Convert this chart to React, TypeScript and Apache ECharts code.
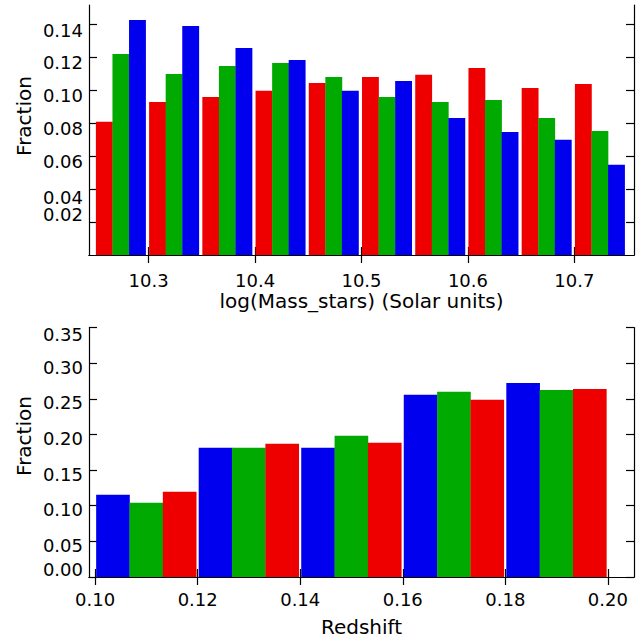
import React, { useEffect, useRef } from "react";
import * as echarts from "echarts";

// ---- Data (top panel: stellar mass bins) ----
const massBinStarts = [10.25, 10.3, 10.35, 10.4, 10.45, 10.5, 10.55, 10.6, 10.65, 10.7];
const massBinWidth = 0.05;
const massRed = [0.0808, 0.0929, 0.0959, 0.0996, 0.1044, 0.108, 0.1093, 0.1135, 0.1014, 0.1038];
const massGreen = [0.122, 0.1099, 0.1147, 0.1165, 0.108, 0.0959, 0.0929, 0.0941, 0.0832, 0.0753];
const massBlue = [0.1426, 0.139, 0.1256, 0.1183, 0.0996, 0.1056, 0.0832, 0.0747, 0.0699, 0.0547];
const massTicks = [10.3, 10.4, 10.5, 10.6, 10.7];
const massFracTicks = [0.02, 0.04, 0.06, 0.08, 0.1, 0.12, 0.14];
const massFracLabelsMain = [0.04, 0.06, 0.08, 0.1, 0.12, 0.14];
const massFracLabelsLow = [0.02];

// ---- Data (bottom panel: redshift bins) ----
const zBinStarts = [0.1, 0.12, 0.14, 0.16, 0.18];
const zBinWidth = 0.02;
const zBlue = [0.1154, 0.1813, 0.1813, 0.2555, 0.2723];
const zGreen = [0.1042, 0.1813, 0.1981, 0.2597, 0.2625];
const zRed = [0.1197, 0.1869, 0.1883, 0.2485, 0.2639];
const zTicks = [0.1, 0.12, 0.14, 0.16, 0.18, 0.2];
const zFracTicks = [0.0, 0.05, 0.1, 0.15, 0.2, 0.25, 0.3, 0.35];
const zFracLabelsMain = [0.05, 0.1, 0.15, 0.2, 0.25, 0.3, 0.35];
const zFracLabelsLow = [0.0];

const RED = "#ee0000";
const GREEN = "#00aa00";
const BLUE = "#0000ee";
const FONT = "DejaVu Sans";
const LABEL_SIZE = 18;
const TITLE_SIZE = 20;

function barSeries(
  name: string,
  starts: number[],
  values: number[],
  binW: number,
  slot: number,
  color: string,
  xIdx: number,
  yIdx: number,
  padL: number,
  padR: number
) {
  return {
    type: "custom",
    name,
    xAxisIndex: xIdx,
    yAxisIndex: yIdx,
    data: starts.map((s, i) => [s, values[i]]),
    renderItem: (params: any, api: any) => {
      const x0 = api.value(0);
      const y = api.value(1);
      const p0 = api.coord([x0, 0]);
      const p1 = api.coord([x0 + binW, y]);
      const left0 = p0[0] + padL;
      const gw = p1[0] - padR - left0;
      const bw = gw / 3;
      return {
        type: "rect",
        shape: { x: left0 + slot * bw, y: p1[1], width: bw + 0.3, height: p0[1] - p1[1] },
        style: { fill: color },
      };
    },
  };
}

// label vertical shift (px, positive = down) relative to its tick
function richLabel(shifts: Record<string, number>, def: number, digits: number) {
  return (v: number) => {
    const t = v.toFixed(digits);
    const s = t in shifts ? shifts[t] : def;
    if (s > 0) return `{d${s}|${t}}`;
    if (s < 0) return `{u${-s}|${t}}`;
    return `{n|${t}}`;
  };
}

function richStyles(shifts: Record<string, number>, def: number) {
  const base = { fontSize: LABEL_SIZE, fontFamily: FONT, color: "#000" };
  const r: any = { n: { ...base } };
  [...Object.values(shifts), def].forEach((s) => {
    if (s > 0) r["d" + s] = { ...base, padding: [2 * s, 0, 0, 0] };
    if (s < 0) r["u" + -s] = { ...base, padding: [0, 0, -2 * s, 0] };
  });
  return r;
}

const axisLineStyle = { show: true, lineStyle: { color: "#000", width: 1.2 } };
const tickStyle = (vals: number[]) => ({
  show: true,
  inside: true,
  length: 8,
  customValues: vals,
  lineStyle: { color: "#000", width: 1.2 },
});

export default function App() {
  const ref = useRef<HTMLDivElement>(null);
  useEffect(() => {
    if (!ref.current) return;
    const chart = echarts.init(ref.current, undefined, { renderer: "svg" });
    const topShifts: Record<string, number> = { "0.14": 6, "0.04": 8, "0.02": -8 };
    const botShifts: Record<string, number> = { "0.35": 7, "0.00": -8 };
    const labelCommon = {
      margin: 6,
      hideOverlap: false,
      showMinLabel: true,
      showMaxLabel: true,
      fontSize: LABEL_SIZE,
      fontFamily: FONT,
      color: "#000",
    };
    const yLabelAxis = (grid: number, min: number, max: number, vals: number[], shifts: Record<string, number>, def: number) => ({
      type: "value", gridIndex: grid, min, max, position: "left",
      axisLine: { show: false }, axisTick: { show: false }, splitLine: { show: false },
      axisLabel: { ...labelCommon, customValues: vals, formatter: richLabel(shifts, def, 2), rich: richStyles(shifts, def) },
    });
    const yFrameAxis = (grid: number, min: number, max: number, pos: string, ticks: number[]) => ({
      type: "value", gridIndex: grid, min, max, position: pos,
      axisLine: axisLineStyle, axisTick: tickStyle(ticks), splitLine: { show: false },
      axisLabel: { show: false },
    });
    const option: any = {
      animation: false,
      backgroundColor: "#fff",
      grid: [
        { left: 89, top: 5, right: 10, height: 250 },
        { left: 89, top: 327.5, right: 10, height: 249.5 },
      ],
      xAxis: [
        {
          type: "value", gridIndex: 0, min: 10.244, max: 10.756, position: "bottom",
          axisLine: axisLineStyle, axisTick: tickStyle(massTicks), splitLine: { show: false },
          axisLabel: {
            ...labelCommon, customValues: massTicks, margin: 16,
            formatter: (v: number) => v.toFixed(1),
          },
          name: "log(Mass_stars) (Solar units)", nameLocation: "middle", nameGap: 36,
          nameTextStyle: { fontSize: TITLE_SIZE, fontFamily: FONT, color: "#000" },
        },
        {
          type: "value", gridIndex: 0, min: 10.244, max: 10.756, position: "top",
          axisLine: axisLineStyle, axisTick: tickStyle(massTicks), splitLine: { show: false },
          axisLabel: { show: false },
        },
        {
          type: "value", gridIndex: 1, min: 0.0988, max: 0.2051, position: "bottom",
          axisLine: axisLineStyle, axisTick: tickStyle(zTicks), splitLine: { show: false },
          axisLabel: {
            ...labelCommon, customValues: zTicks, margin: 13,
            formatter: (v: number) => v.toFixed(2),
          },
          name: "Redshift", nameLocation: "middle", nameGap: 40,
          nameTextStyle: { fontSize: TITLE_SIZE, fontFamily: FONT, color: "#000" },
        },
        {
          type: "value", gridIndex: 1, min: 0.0988, max: 0.2051, position: "top",
          axisLine: axisLineStyle, axisTick: tickStyle(zTicks), splitLine: { show: false },
          axisLabel: { show: false },
        },
      ],
      yAxis: [
        yFrameAxis(0, 0, 0.1517, "left", massFracTicks),
        yFrameAxis(0, 0, 0.1517, "right", massFracTicks),
        yLabelAxis(0, 0, 0.1517, massFracLabelsMain, topShifts, 5),
        yLabelAxis(0, 0, 0.1517, massFracLabelsLow, topShifts, 5),
        yFrameAxis(1, 0, 0.35, "left", zFracTicks),
        yFrameAxis(1, 0, 0.35, "right", zFracTicks),
        yLabelAxis(1, 0, 0.35, zFracLabelsMain, botShifts, 4),
        yLabelAxis(1, 0, 0.35, zFracLabelsLow, botShifts, 4),
      ],
      graphic: [
        {
          type: "text", x: 24, y: 116, rotation: Math.PI / 2,
          style: { text: "Fraction", fontSize: TITLE_SIZE, fontFamily: FONT, fill: "#000", align: "center", verticalAlign: "middle" },
        },
        {
          type: "text", x: 24, y: 436, rotation: Math.PI / 2,
          style: { text: "Fraction", fontSize: TITLE_SIZE, fontFamily: FONT, fill: "#000", align: "center", verticalAlign: "middle" },
        },
      ],
      series: [
        barSeries("red", massBinStarts, massRed, massBinWidth, 0, RED, 0, 0, 0.5, 3),
        barSeries("green", massBinStarts, massGreen, massBinWidth, 1, GREEN, 0, 0, 0.5, 3),
        barSeries("blue", massBinStarts, massBlue, massBinWidth, 2, BLUE, 0, 0, 0.5, 3),
        barSeries("blue z", zBinStarts, zBlue, zBinWidth, 0, BLUE, 2, 4, 1, 1.5),
        barSeries("green z", zBinStarts, zGreen, zBinWidth, 1, GREEN, 2, 4, 1, 1.5),
        barSeries("red z", zBinStarts, zRed, zBinWidth, 2, RED, 2, 4, 1, 1.5),
      ],
    };
    chart.setOption(option);
    return () => chart.dispose();
  }, []);
  return (
    <div
      ref={ref}
      style={{ position: "fixed", left: 0, top: 0, width: 644, height: 639, background: "#fff" }}
    />
  );
}
